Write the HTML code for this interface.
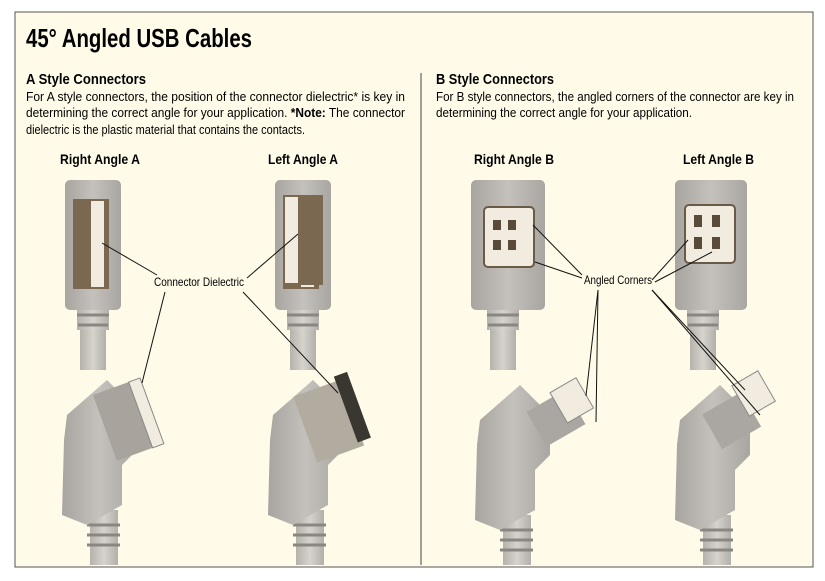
<!DOCTYPE html>
<html><head><meta charset="utf-8"><style>
html,body{margin:0;padding:0;background:#fff;}
svg{display:block;font-family:"Liberation Sans",sans-serif;}
</style></head><body>
<svg width="825" height="581" viewBox="0 0 825 581">
<defs>
<clipPath id="fr"><rect x="15" y="12" width="798" height="553"/></clipPath>
<linearGradient id="g" x1="0" x2="1"><stop offset="0" stop-color="#a8a49f"/><stop offset=".5" stop-color="#c4c1bc"/><stop offset="1" stop-color="#a9a6a2"/></linearGradient>
<linearGradient id="c" x1="0" x2="1"><stop offset="0" stop-color="#b5b2ac"/><stop offset=".5" stop-color="#d6d3cd"/><stop offset="1" stop-color="#b2afaa"/></linearGradient>
<g id="topA">
<rect x="0" y="0" width="56" height="130" rx="5" fill="url(#g)"/>
<rect x="8" y="19" width="36" height="90" fill="#7a6850"/>
<rect x="26" y="21" width="13" height="86" fill="#f2ece0"/>
<g fill="url(#c)"><rect x="12" y="130" width="32" height="20"/><rect x="15" y="150" width="26" height="40"/></g>
<g stroke="#8a8783" stroke-width="3"><line x1="12" y1="135" x2="44" y2="135"/><line x1="13" y1="145" x2="43" y2="145"/></g>
</g>
<g id="bot">
<rect x="28" y="130" width="28" height="60" fill="url(#c)"/>
<g stroke="#8a8783" stroke-width="3"><line x1="25" y1="145" x2="58" y2="145"/><line x1="25" y1="155" x2="58" y2="155"/><line x1="25" y1="165" x2="58" y2="165"/></g>
<path d="M5,35 L45,0 L75,30 L75,70 L60,85 L60,125 L25,145 L0,135 L2,60 Z" fill="url(#g)"/>
</g>
</defs>
<rect x="15" y="12" width="798" height="555" fill="#fffbe8" stroke="#555" stroke-width="1"/>
<line x1="421" y1="73" x2="421" y2="565" stroke="#444" stroke-width="1"/>
<text x="26" y="47" font-size="26" font-weight="bold" textLength="226" lengthAdjust="spacingAndGlyphs">45° Angled USB Cables</text>
<text x="26" y="84" font-size="15" font-weight="bold" textLength="120" lengthAdjust="spacingAndGlyphs">A Style Connectors</text>
<g font-size="13">
<text x="26" y="101" textLength="379" lengthAdjust="spacingAndGlyphs">For A style connectors, the position of the connector dielectric* is key in</text>
<text x="26" y="117" textLength="379" lengthAdjust="spacingAndGlyphs">determining the correct angle for your application. <tspan font-weight="bold">*Note:</tspan> The connector</text>
<text x="26" y="134" textLength="279" lengthAdjust="spacingAndGlyphs">dielectric is the plastic material that contains the contacts.</text>
<text x="436" y="101" textLength="358" lengthAdjust="spacingAndGlyphs">For B style connectors, the angled corners of the connector are key in</text>
<text x="436" y="117" textLength="256" lengthAdjust="spacingAndGlyphs">determining the correct angle for your application.</text>
</g>
<text x="436" y="84" font-size="15" font-weight="bold" textLength="118" lengthAdjust="spacingAndGlyphs">B Style Connectors</text>
<g font-size="14" font-weight="bold">
<text x="60" y="164" textLength="80" lengthAdjust="spacingAndGlyphs">Right Angle A</text>
<text x="268" y="164" textLength="70" lengthAdjust="spacingAndGlyphs">Left Angle A</text>
<text x="474" y="164" textLength="80" lengthAdjust="spacingAndGlyphs">Right Angle B</text>
<text x="683" y="164" textLength="71" lengthAdjust="spacingAndGlyphs">Left Angle B</text>
</g>
<g clip-path="url(#fr)">
<use href="#topA" x="65" y="180"/>
<use href="#topA" x="275" y="180"/>
<use href="#topA" x="475" y="180"/>
<use href="#topA" x="675" y="180"/>
<rect x="471" y="180" width="74" height="130" rx="5" fill="url(#g)"/>
<rect x="484" y="207" width="50" height="60" rx="4" fill="#f2ece0" stroke="#6a5a48" stroke-width="2"/>
<g fill="#5a4a3a"><rect x="493" y="220" width="8" height="10"/><rect x="508" y="220" width="8" height="10"/><rect x="493" y="240" width="8" height="10"/><rect x="508" y="240" width="8" height="10"/></g>
<rect x="675" y="180" width="72" height="130" rx="5" fill="url(#g)"/>
<rect x="685" y="205" width="50" height="58" rx="4" fill="#f2ece0" stroke="#6a5a48" stroke-width="2"/>
<g fill="#5a4a3a"><rect x="694" y="215" width="8" height="12"/><rect x="712" y="215" width="8" height="12"/><rect x="694" y="237" width="8" height="12"/><rect x="712" y="237" width="8" height="12"/></g>
<rect x="283" y="195" width="40" height="90" fill="#7a6850"/><rect x="285" y="197" width="13" height="86" fill="#f2ece0"/>
<use href="#bot" x="62" y="380"/>
<use href="#bot" x="268" y="380"/>
<use href="#bot" x="475" y="385"/>
<use href="#bot" x="675" y="385"/>
<g transform="rotate(-20 125 410)"><rect x="100" y="385" width="50" height="70" fill="#a8a39c"/><rect x="138" y="385" width="12" height="70" fill="#f2ece0" stroke="#888"/></g>
<g transform="rotate(-20 330 410)"><rect x="300" y="385" width="50" height="70" fill="#b2ab9f"/><rect x="345" y="380" width="14" height="70" fill="#3a3630"/></g>
<g transform="rotate(-30 560 410)"><rect x="530" y="395" width="45" height="40" fill="#aaa7a2"/><rect x="560" y="390" width="30" height="35" fill="#f2ece0" stroke="#888"/></g>
<g transform="rotate(-30 740 410)"><rect x="705" y="395" width="45" height="40" fill="#aaa7a2"/><rect x="745" y="385" width="30" height="35" fill="#f2ece0" stroke="#888"/></g>
</g>
<g stroke="#111" stroke-width="1" fill="none">
<line x1="102" y1="243" x2="157" y2="275"/><line x1="298" y1="234" x2="247" y2="278"/>
<line x1="165" y1="292" x2="142" y2="383"/><line x1="243" y1="292" x2="338" y2="393"/>
<line x1="533" y1="225" x2="582" y2="275"/><line x1="535" y1="262" x2="582" y2="278"/>
<line x1="688" y1="240" x2="652" y2="280"/><line x1="712" y1="252" x2="655" y2="282"/>
<line x1="598" y1="290" x2="586" y2="396"/><line x1="598" y1="290" x2="596" y2="422"/>
<line x1="652" y1="290" x2="745" y2="390"/><line x1="652" y1="290" x2="760" y2="415"/>
</g>
<text x="199" y="286" font-size="12" text-anchor="middle" textLength="90" lengthAdjust="spacingAndGlyphs">Connector Dielectric</text>
<text x="618" y="284" font-size="12" text-anchor="middle" textLength="68" lengthAdjust="spacingAndGlyphs">Angled Corners</text>
</svg>
</body></html>
